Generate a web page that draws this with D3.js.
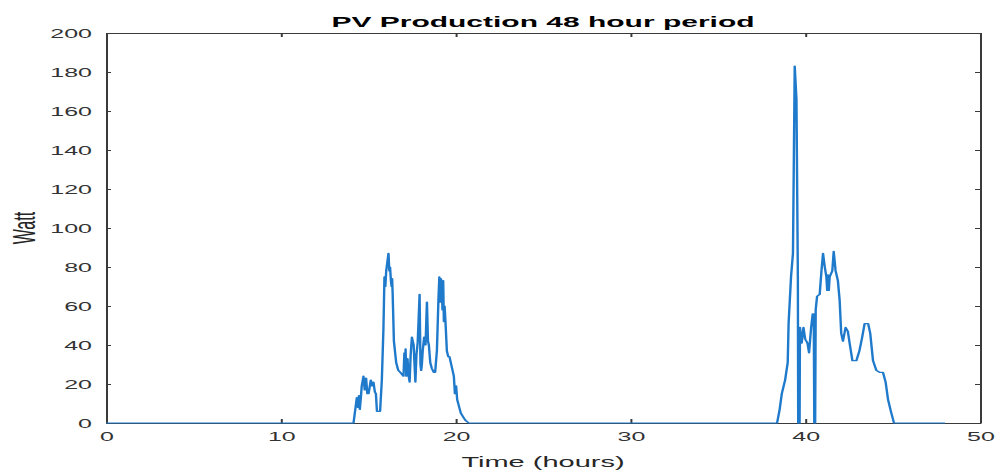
<!DOCTYPE html>
<html>
<head>
<meta charset="utf-8">
<script src="https://cdn.jsdelivr.net/npm/d3@7"></script>
<style>
  html, body { margin: 0; padding: 0; background: #fff; }
  svg { display: block; }
</style>
</head>
<body>
<svg id="chart" width="996" height="470"></svg>
<script>
// PV output over 48 hours: [time in hours, power in watts]
const night1 = [[0, 0], [14.16, 0]];
const day1 = [
  [14.35, 13], [14.42, 8], [14.47, 14], [14.52, 7], [14.58, 13], [14.63, 19], [14.73, 24], [14.8, 17],
  [14.88, 23], [14.95, 15], [15.02, 15], [15.15, 22], [15.22, 19], [15.3, 21], [15.38, 16], [15.44, 15],
  [15.5, 6], [15.68, 6], [15.78, 22], [15.87, 48], [15.93, 75], [15.98, 70], [16.03, 78], [16.09, 82],
  [16.16, 87], [16.21, 78], [16.25, 80], [16.3, 73], [16.34, 70], [16.37, 74], [16.4, 66], [16.47, 42],
  [16.6, 31], [16.72, 27], [16.83, 26], [17.02, 24], [17.07, 36], [17.1, 28], [17.14, 38], [17.18, 24],
  [17.25, 33], [17.3, 25], [17.37, 21], [17.43, 35], [17.5, 44], [17.6, 40], [17.65, 30], [17.7, 21],
  [17.76, 35], [17.83, 41], [17.88, 52], [17.94, 66], [17.99, 30], [18.03, 27], [18.07, 30], [18.12, 37],
  [18.2, 44], [18.28, 40], [18.36, 62], [18.42, 42], [18.47, 40], [18.55, 31], [18.64, 28], [18.75, 26],
  [18.83, 26], [18.93, 37], [19.02, 64], [19.07, 75], [19.12, 62], [19.16, 74], [19.2, 72], [19.25, 58],
  [19.29, 73], [19.33, 52], [19.37, 60], [19.42, 52], [19.5, 37], [19.58, 34], [19.65, 34], [19.75, 30],
  [19.85, 26], [19.9, 24], [19.96, 15], [20.03, 19], [20.09, 12], [20.15, 10], [20.3, 5], [20.55, 1.5],
  [20.75, 0]
];
const night2 = [[38.39, 0]];
const day2 = [
  [38.54, 7], [38.66, 15], [38.85, 22], [39.0, 31], [39.05, 51], [39.19, 75], [39.3, 87], [39.4, 183],
  [39.5, 166], [39.58, 75], [39.6, 0], [39.68, 0], [39.7, 49], [39.8, 41], [39.9, 49], [40.0, 43],
  [40.13, 41], [40.22, 36], [40.34, 49], [40.43, 56], [40.49, 56], [40.52, 0], [40.57, 0], [40.6, 58],
  [40.68, 65], [40.83, 66], [40.93, 78], [41.02, 87], [41.12, 80], [41.21, 75], [41.26, 68], [41.3, 76],
  [41.35, 68], [41.4, 75], [41.55, 78], [41.63, 88], [41.74, 78], [41.87, 73], [41.97, 63], [42.06, 46],
  [42.16, 42], [42.31, 49], [42.44, 47], [42.54, 41], [42.7, 32], [42.93, 32], [43.1, 37], [43.26, 44],
  [43.4, 51], [43.6, 51], [43.72, 46], [43.88, 32], [44.07, 27], [44.26, 26], [44.45, 26], [44.6, 21],
  [44.74, 12], [44.9, 6], [45.08, 0]
];
const night3 = [[48, 0]];

const xTicks = [0, 10, 20, 30, 40, 50];
const yTicks = [0, 20, 40, 60, 80, 100, 120, 140, 160, 180, 200];
const titleText = "PV Production 48 hour period";
const xLabel = "Time (hours)";
const yLabel = "Watt";

const series = [].concat(night1, day1, night2, day2, night3);

// The figure is laid out in a half-width frame and stretched 2x horizontally
const SX = 2;
const plot = { left: 53, right: 490, top: 33, bottom: 423 };
const axisColor = "#3a3a3a";
const lineColor = "#1f7acb";
const font = "'Liberation Sans', Arial, Helvetica, sans-serif";

const svg = d3.select("#chart");
const root = svg.append("g").attr("transform", `scale(${SX},1)`);

const x = d3.scaleLinear().domain([0, 50]).range([plot.left, plot.right]);
const y = d3.scaleLinear().domain([0, 200]).range([plot.bottom, plot.top]);

function styleAxis(g) {
  g.selectAll("path.domain").attr("stroke", axisColor).attr("stroke-width", 1);
  g.selectAll(".tick line").attr("stroke", axisColor).attr("stroke-width", 1);
  g.selectAll(".tick text")
    .attr("fill", "#333")
    .style("font-family", font)
    .style("font-size", "12.5px");
}

// Bottom axis with inward ticks
root.append("g")
  .attr("transform", `translate(0,${plot.bottom})`)
  .call(d3.axisBottom(x).tickValues(xTicks).tickSizeInner(-4).tickSizeOuter(0).tickPadding(9))
  .call(styleAxis);

// Left axis with inward ticks
root.append("g")
  .attr("transform", `translate(${plot.left},0)`)
  .call(d3.axisLeft(y).tickValues(yTicks).tickSizeInner(-2.5).tickSizeOuter(0).tickPadding(7))
  .call(styleAxis);

// Mirrored top and right axes close the box
root.append("g")
  .attr("transform", `translate(0,${plot.top})`)
  .call(d3.axisTop(x).tickValues(xTicks).tickFormat("").tickSizeInner(-4).tickSizeOuter(0))
  .call(styleAxis);

root.append("g")
  .attr("transform", `translate(${plot.right},0)`)
  .call(d3.axisRight(y).tickValues(yTicks).tickFormat("").tickSizeInner(-2.5).tickSizeOuter(0))
  .call(styleAxis);

// Power curve
const line = d3.line()
  .x((d) => x(d[0]))
  .y((d) => y(d[1]));

root.append("path")
  .datum(series)
  .attr("fill", "none")
  .attr("stroke", lineColor)
  .attr("stroke-width", 1.2)
  .attr("stroke-linejoin", "round")
  .attr("d", line);

// Title
root.append("text")
  .attr("x", (plot.left + plot.right) / 2)
  .attr("y", 27)
  .attr("text-anchor", "middle")
  .style("font-family", font)
  .style("font-weight", "bold")
  .style("font-size", "15px")
  .attr("fill", "#000")
  .text(titleText);

// Axis labels
root.append("text")
  .attr("x", (plot.left + plot.right) / 2)
  .attr("y", 467)
  .attr("text-anchor", "middle")
  .style("font-family", font)
  .style("font-size", "14.5px")
  .attr("fill", "#262626")
  .text(xLabel);

root.append("text")
  .attr("transform", `translate(17.5,228) rotate(-90)`)
  .attr("text-anchor", "middle")
  .style("font-family", font)
  .style("font-size", "16px")
  .attr("fill", "#262626")
  .text(yLabel);
</script>
</body>
</html>
